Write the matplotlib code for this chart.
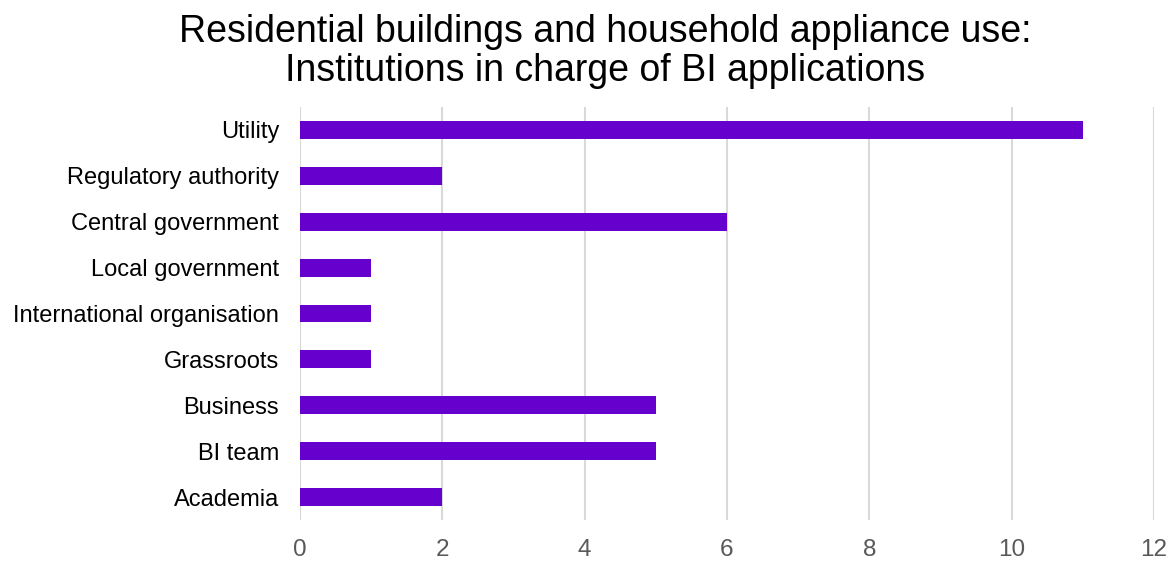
import matplotlib.pyplot as plt

plt.rcParams['font.family'] = ['Liberation Sans', 'DejaVu Sans']

categories = ["Utility", "Regulatory authority", "Central government", "Local government",
              "International organisation", "Grassroots", "Business", "BI team", "Academia"]
values = [11, 2, 6, 1, 1, 1, 5, 5, 2]
xticks = [0, 2, 4, 6, 8, 10, 12]

fig = plt.figure(figsize=(11.7, 5.63), dpi=100)
ax = fig.add_axes([0.2564, 0.0764, 0.7299, 0.7336])

ypos = list(range(len(categories)))
ax.barh(ypos, values, height=0.39, color="#6600CC", zorder=3)
ax.set_yticks(ypos)
ax.set_yticklabels(categories, fontsize=17, color="#000000")
ax.set_ylim(len(categories) - 0.5, -0.5)

ax.set_xlim(0, 12)
ax.set_xticks(xticks)
ax.set_xticklabels([str(t) for t in xticks], fontsize=17.5, color="#595959")
ax.grid(axis="x", color="#d9d9d9", linewidth=1.5, zorder=0)
ax.grid(axis="y", visible=False)
for s in ax.spines.values():
    s.set_visible(False)
ax.tick_params(length=0)
ax.tick_params(axis="y", pad=15)
ax.tick_params(axis="x", pad=14)

fig.suptitle("Residential buildings and household appliance use:\nInstitutions in charge of BI applications",
             fontsize=27, x=0.517, y=0.975, va="top", linespacing=1.1)

fig.savefig("out.png", dpi=100)
